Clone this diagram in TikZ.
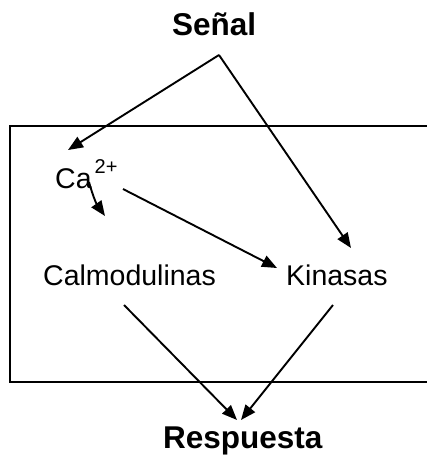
\documentclass[tikz,border=0pt]{standalone}
\usepackage{fontspec}
\setmainfont{Liberation Sans}
\usetikzlibrary{arrows.meta}
\begin{document}
\begin{tikzpicture}[x=1pt,y=-1pt,
  lbl/.style={inner sep=0pt,anchor=base west,font=\fontsize{28.5}{30}\selectfont},
  blbl/.style={inner sep=0pt,anchor=base west,font=\fontsize{31.5}{33}\selectfont\bfseries},
  arr/.style={line width=1.9pt,-{Triangle[length=15pt,width=12pt]}},
  wall/.style={line width=1.8pt}]
\useasboundingbox (0,0) rectangle (427,464);
% cell boundary, open to the right
\draw[wall] (427,126) -- (10,126) -- (10,382) -- (427,382);
% labels
\node[blbl] (senal) at (172,35) {Señal};
\node[lbl] (ca) at (55,188) {Ca\hspace{3pt}\raisebox{15pt}{\fontsize{20}{21}\selectfont 2+}};
\node[lbl] (calm) at (43,285) {Calmodulinas};
\node[lbl] (kin) at (286,285) {Kinasas};
\node[blbl] (resp) at (163,448) {Respuesta};
% connector end points
\coordinate (apex) at (219,55);
\coordinate (caIn) at (68,150);
\coordinate (caOut) at (89,182);
\coordinate (calmIn) at (105,216);
\coordinate (caKin) at (123,189);
\coordinate (kinIn) at (277,268);
\coordinate (kinSig) at (351,248);
\coordinate (calmOut) at (124,305);
\coordinate (kinOut) at (333,305);
\coordinate (respL) at (237,420);
\coordinate (respR) at (241,420);
% signalling arrows
\draw[arr] (apex) -- (caIn);
\draw[arr] (apex) -- (kinSig);
\draw[arr] (caOut) to[bend right=10] (calmIn);
\draw[arr] (caKin) -- (kinIn);
\draw[arr] (calmOut) -- (respL);
\draw[arr] (kinOut) -- (respR);
\end{tikzpicture}
\end{document}
